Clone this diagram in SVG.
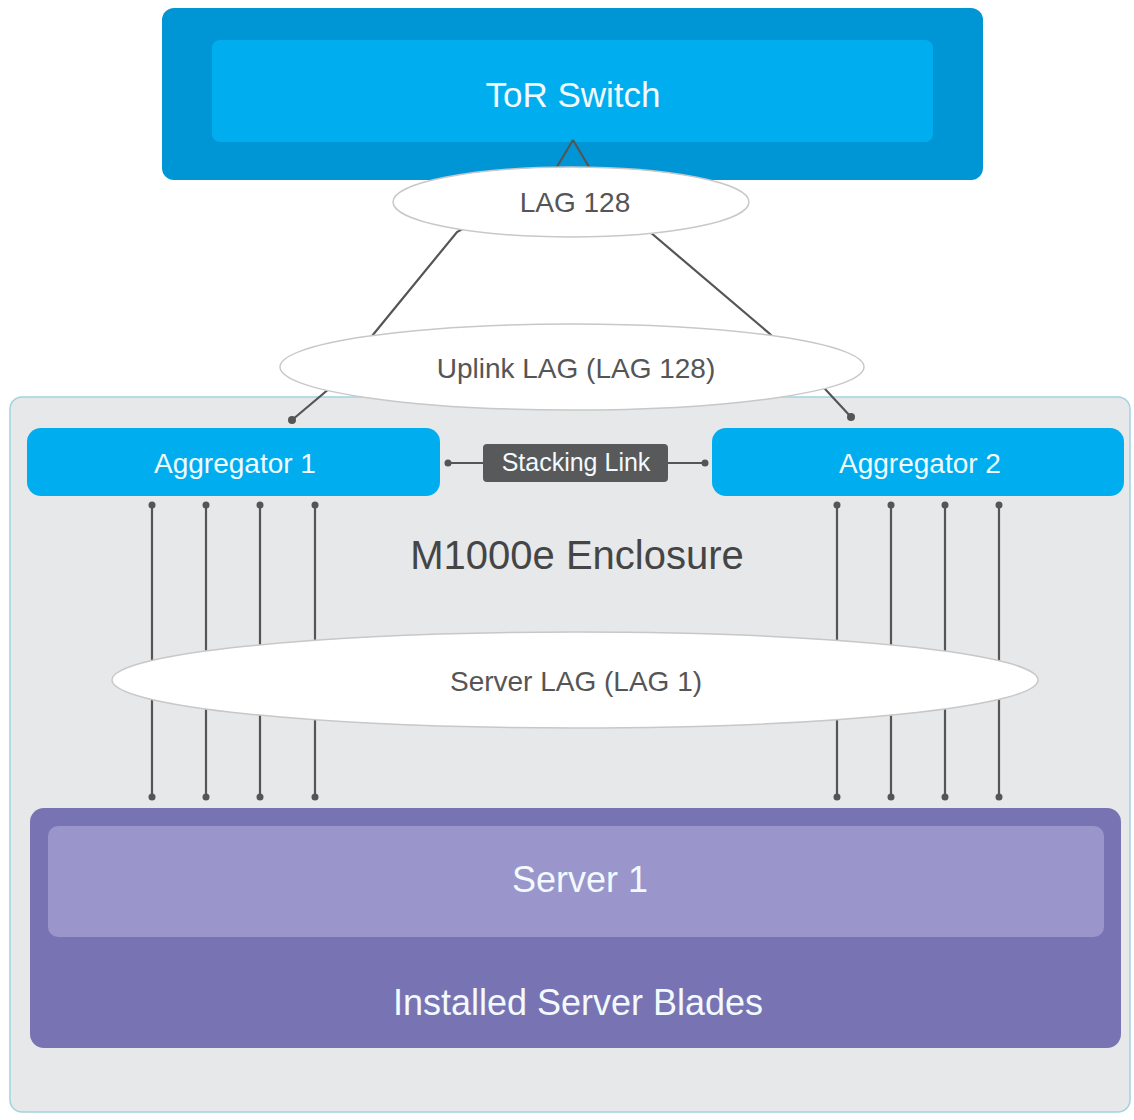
<svg xmlns="http://www.w3.org/2000/svg" width="1134" height="1120" viewBox="0 0 1134 1120">
<defs>
<style>
text{font-family:"Liberation Sans",Arial,sans-serif;text-anchor:middle}
.w{fill:#f2fafe}
.g{fill:#555}
.ell{fill:#fff;stroke:#c8c8c8;stroke-width:1.5}
.ln{stroke:#555;stroke-width:2.2;fill:none}
.dot{fill:#555}
</style>
</defs>
<rect width="1134" height="1120" fill="#fff"/>
<g id="enclosure">
<rect x="10" y="397" width="1120" height="715" rx="12" fill="#e6e8ea" stroke="#9fd3e0" stroke-width="1.5"/>
<text x="577" y="569" font-size="40" fill="#454545">M1000e Enclosure</text>
</g>
<g id="tor-switch">
<rect x="162" y="8" width="821" height="172" rx="12" fill="#0096d6"/>
<rect x="212" y="40" width="721" height="102" rx="8" fill="#00aeef"/>
<text x="573" y="107" font-size="35" class="w">ToR Switch</text>
</g>
<g id="connectors">
<path class="ln" d="M573,140 L548,182 L457,232 L372,336 L330,388 L292,420"/>
<path class="ln" d="M573,140 L598,182 L650,232 L770,334 L826,390 L851,417"/>
<circle class="dot" cx="292" cy="420" r="4"/>
<circle class="dot" cx="851" cy="417" r="4"/>
<path class="ln" d="M448,463 H483 M668,463 H705"/>
<circle class="dot" cx="448" cy="463" r="3.5"/>
<circle class="dot" cx="705" cy="463" r="3.5"/>
<g class="ln">
<path d="M152,505 V797 M206,505 V797 M260,505 V797 M315,505 V797 M837,505 V797 M891,505 V797 M945,505 V797 M999,505 V797"/>
</g>
<g class="dot">
<circle cx="152" cy="505" r="3.5"/><circle cx="206" cy="505" r="3.5"/><circle cx="260" cy="505" r="3.5"/><circle cx="315" cy="505" r="3.5"/>
<circle cx="837" cy="505" r="3.5"/><circle cx="891" cy="505" r="3.5"/><circle cx="945" cy="505" r="3.5"/><circle cx="999" cy="505" r="3.5"/>
<circle cx="152" cy="797" r="3.5"/><circle cx="206" cy="797" r="3.5"/><circle cx="260" cy="797" r="3.5"/><circle cx="315" cy="797" r="3.5"/>
<circle cx="837" cy="797" r="3.5"/><circle cx="891" cy="797" r="3.5"/><circle cx="945" cy="797" r="3.5"/><circle cx="999" cy="797" r="3.5"/>
</g>
</g>
<g id="lag-128">
<ellipse class="ell" cx="571" cy="202" rx="178" ry="35"/>
<text x="575" y="212" font-size="28" class="g">LAG 128</text>
</g>
<g id="uplink-lag">
<ellipse class="ell" cx="572" cy="367" rx="292" ry="43"/>
<text x="576" y="378" font-size="28" class="g">Uplink LAG (LAG 128)</text>
</g>
<g id="aggregator-1">
<rect x="27" y="428" width="413" height="68" rx="14" fill="#00aeef"/>
<text x="235" y="473" font-size="28" class="w">Aggregator 1</text>
</g>
<g id="aggregator-2">
<rect x="712" y="428" width="412" height="68" rx="14" fill="#00aeef"/>
<text x="920" y="473" font-size="28" class="w">Aggregator 2</text>
</g>
<g id="stacking-link">
<rect x="483" y="444" width="185" height="38" rx="4" fill="#58595b"/>
<text x="576" y="471" font-size="25" class="w">Stacking Link</text>
</g>
<g id="server-lag">
<ellipse class="ell" cx="575" cy="680" rx="463" ry="48"/>
<text x="576" y="691" font-size="28" class="g">Server LAG (LAG 1)</text>
</g>
<g id="server-blades">
<rect x="30" y="808" width="1091" height="240" rx="14" fill="#7873b3"/>
<rect x="48" y="826" width="1056" height="111" rx="10" fill="#9a96cb"/>
<text x="580" y="892" font-size="36" class="w">Server 1</text>
<text x="578" y="1015" font-size="36" class="w">Installed Server Blades</text>
</g>
</svg>
